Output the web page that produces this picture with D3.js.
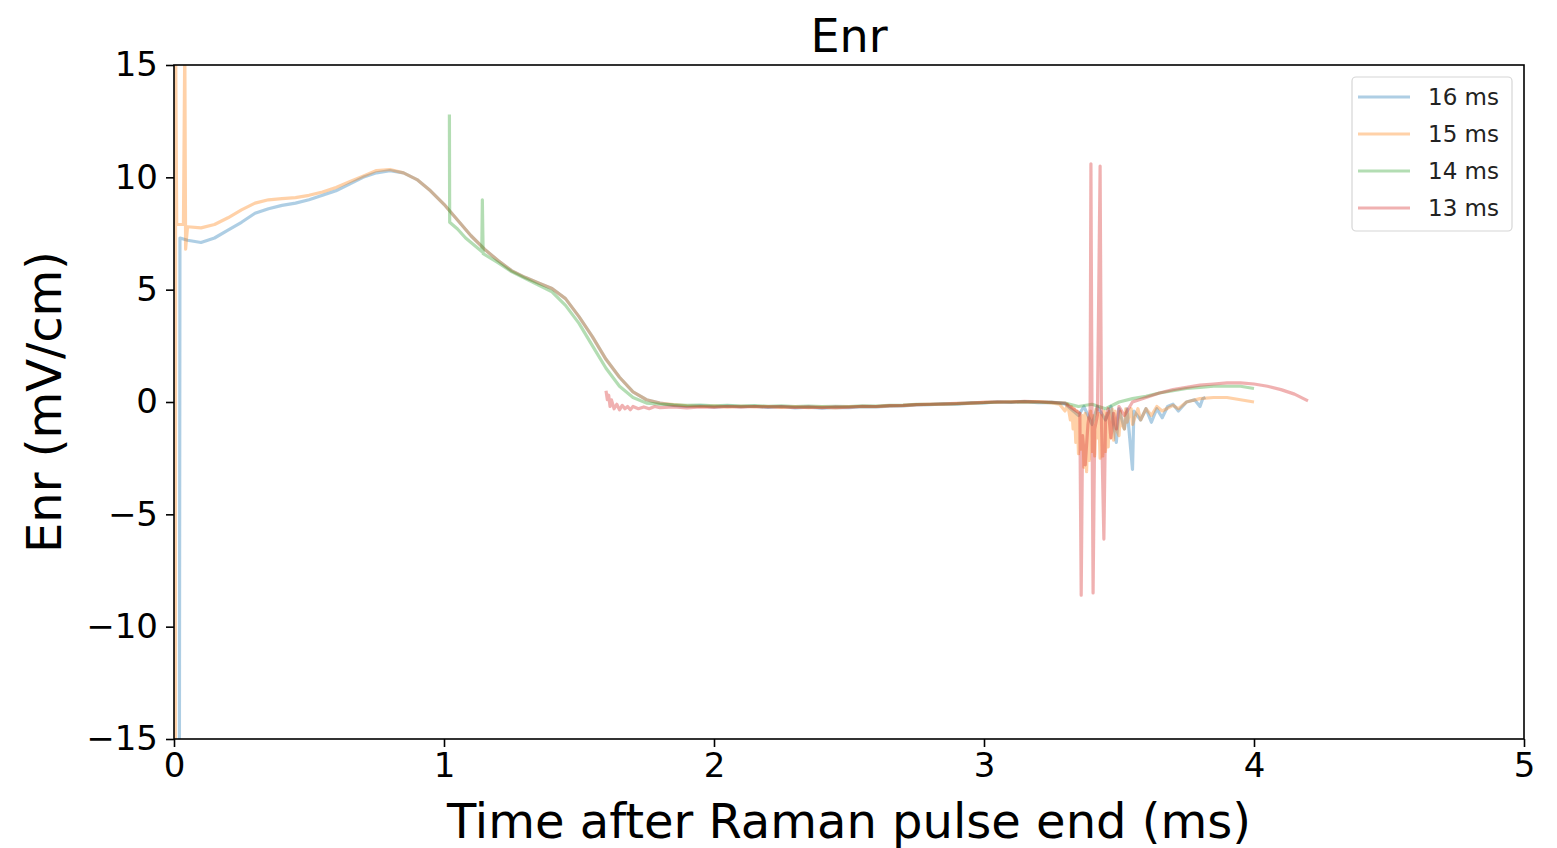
<!DOCTYPE html>
<html><head><meta charset="utf-8">
<script src="https://cdn.jsdelivr.net/npm/d3@7"></script>
<style>body{margin:0;background:#fff}svg{display:block}text{font-family:"DejaVu Sans",sans-serif}</style>
</head><body><div id="chart"></div>
<script>
const seriesNames = ["16 ms","15 ms","14 ms","13 ms"];
const seriesColors = ["#1f77b4","#ff7f0e","#2ca02c","#d62728"];
const xTicks = [0,1,2,3,4,5];
const yTicks = [-15,-10,-5,0,5,10,15];

const s16 = [[0.02,-16],[0.022,7.3],[0.05,7.2],[0.1,7.1],[0.15,7.3],[0.2,7.65],[0.25,8.0],[0.3,8.4],[0.35,8.6],[0.4,8.75],[0.45,8.85],[0.5,9.0],[0.55,9.2],[0.6,9.4],[0.65,9.7],[0.7,10.0],[0.75,10.2],[0.8,10.3],[0.85,10.2],[0.9,9.9],[0.95,9.4],[1.0,8.8],[1.05,8.1],[1.1,7.4],[1.15,6.8],[1.2,6.3],[1.25,5.85],[1.3,5.55],[1.35,5.3],[1.4,5.05],[1.45,4.6],[1.5,3.8],[1.55,2.9],[1.6,1.9],[1.65,1.1],[1.7,0.45],[1.75,0.1],[1.8,-0.05],
[1.85,-0.15],[1.9,-0.2],[1.95,-0.17],[2.0,-0.22],[2.05,-0.18],[2.1,-0.21],[2.15,-0.19],[2.2,-0.24],[2.25,-0.2],[2.3,-0.26],[2.35,-0.23],[2.4,-0.27],[2.45,-0.24],[2.5,-0.25],[2.55,-0.21],[2.6,-0.22],[2.65,-0.18],[2.7,-0.17],[2.75,-0.13],[2.8,-0.12],[2.85,-0.09],[2.9,-0.1],[2.95,-0.05],[3.0,-0.04],[3.05,0.0],[3.1,-0.02],[3.15,0.02],[3.2,-0.03],[3.25,-0.02],[3.3,-0.08],
[3.35,-0.6],[3.37,-0.2],[3.4,-1.0],[3.42,-0.2],[3.45,-0.8],[3.47,-0.2],[3.49,-1.8],[3.5,-0.3],[3.52,-1.2],[3.53,-0.3],[3.55,-3.0],[3.555,-0.4],[3.58,-0.8],[3.6,-0.3],[3.62,-0.9],[3.64,-0.3],[3.66,-0.7],[3.68,-0.2],[3.7,-0.1],[3.72,-0.4],[3.75,0.0],[3.78,0.1],[3.8,-0.2],[3.81,0.15],[3.82,0.2]];

const s15 = [[0.005,-16],[0.006,16],[0.01,7.9],[0.035,7.9],[0.04,16],[0.043,6.8],[0.05,7.8],[0.1,7.75],[0.15,7.9],[0.2,8.2],[0.25,8.55],[0.3,8.85],[0.35,9.0],[0.4,9.05],[0.45,9.1],[0.5,9.2],[0.55,9.35],[0.6,9.55],[0.65,9.8],[0.7,10.05],[0.75,10.3],[0.8,10.35],[0.85,10.2],[0.9,9.9],[0.95,9.4],[1.0,8.8],[1.05,8.1],[1.1,7.4],[1.15,6.8],[1.2,6.3],[1.25,5.85],[1.3,5.55],[1.35,5.3],[1.4,5.05],[1.45,4.6],[1.5,3.8],[1.55,2.9],[1.6,1.9],[1.65,1.1],[1.7,0.45],[1.75,0.1],[1.8,-0.05],
[1.85,-0.12],[1.9,-0.17],[1.95,-0.2],[2.0,-0.18],[2.05,-0.22],[2.1,-0.19],[2.15,-0.21],[2.2,-0.2],[2.25,-0.24],[2.3,-0.22],[2.35,-0.25],[2.4,-0.23],[2.45,-0.26],[2.5,-0.22],[2.55,-0.2],[2.6,-0.21],[2.65,-0.17],[2.7,-0.16],[2.75,-0.12],[2.8,-0.11],[2.85,-0.1],[2.9,-0.07],[2.95,-0.06],[3.0,-0.02],[3.05,-0.01],[3.1,0.01],[3.15,0.0],[3.2,0.02],[3.25,-0.04],[3.28,-0.1],[3.3,-0.4],[3.31,-0.1],
[3.32,-0.8],[3.325,-0.2],[3.33,-1.2],[3.335,-0.3],[3.34,-1.8],[3.345,-0.4],[3.35,-2.3],[3.355,-0.5],[3.36,-2.1],[3.365,-0.6],[3.37,-2.9],[3.375,-0.5],[3.38,-3.1],[3.385,-0.7],[3.39,-2.6],[3.395,-0.4],[3.40,-2.2],[3.405,-0.6],[3.41,-2.4],[3.415,-0.3],[3.42,-1.6],[3.425,-0.5],[3.43,-2.5],[3.435,-0.6],[3.44,-2.4],[3.445,-0.4],[3.45,-2.2],[3.455,-0.5],[3.46,-2.0],[3.465,-0.4],[3.47,-1.6],[3.475,-0.3],[3.48,-1.7],[3.485,-0.4],[3.49,-1.2],[3.5,-1.5],[3.505,-0.4],[3.51,-1.0],[3.52,-1.2],[3.525,-0.3],[3.53,-0.9],[3.545,-0.3],[3.55,-1.0],[3.57,-0.3],[3.58,-0.8],[3.6,-0.3],[3.62,-0.6],[3.64,-0.2],[3.66,-0.4],[3.7,-0.15],[3.72,-0.3],[3.75,0.0],[3.8,0.15],[3.85,0.2],[3.9,0.2],[3.95,0.1],[4.0,0.0]];

const s14 = [[1.02,12.8],[1.021,8.0],[1.05,7.7],[1.08,7.3],[1.1,7.1],[1.14,6.7],[1.142,9.0],[1.145,6.6],[1.2,6.2],[1.25,5.8],[1.3,5.5],[1.35,5.2],[1.4,4.9],[1.45,4.3],[1.5,3.5],[1.55,2.5],[1.6,1.5],[1.65,0.7],[1.7,0.2],[1.75,-0.05],[1.8,-0.1],
[1.85,-0.13],[1.9,-0.15],[1.95,-0.14],[2.0,-0.17],[2.05,-0.15],[2.1,-0.18],[2.15,-0.16],[2.2,-0.19],[2.25,-0.17],[2.3,-0.2],[2.35,-0.18],[2.4,-0.21],[2.45,-0.19],[2.5,-0.2],[2.55,-0.17],[2.6,-0.18],[2.65,-0.15],[2.7,-0.14],[2.75,-0.11],[2.8,-0.1],[2.85,-0.08],[2.9,-0.07],[2.95,-0.04],[3.0,-0.03],[3.05,0.0],[3.1,0.0],[3.15,0.02],[3.2,0.0],[3.25,-0.02],[3.3,-0.05],
[3.35,-0.2],[3.4,-0.1],[3.45,-0.3],[3.5,0.0],[3.55,0.15],[3.6,0.25],[3.65,0.4],[3.7,0.5],[3.75,0.6],[3.8,0.65],[3.85,0.7],[3.9,0.7],[3.95,0.7],[4.0,0.6]];

const s13 = [[1.6,0.5],[1.605,0.1],[1.61,0.3],[1.615,-0.2],[1.62,0.1],[1.63,-0.3],[1.64,-0.1],[1.65,-0.35],[1.66,-0.15],[1.67,-0.3],[1.68,-0.2],[1.69,-0.35],[1.7,-0.2],[1.72,-0.3],[1.74,-0.22],[1.76,-0.3],[1.78,-0.2],[1.8,-0.25],
[1.85,-0.22],[1.9,-0.26],[1.95,-0.22],[2.0,-0.24],[2.05,-0.2],[2.1,-0.23],[2.15,-0.2],[2.2,-0.22],[2.25,-0.21],[2.3,-0.24],[2.35,-0.22],[2.4,-0.25],[2.45,-0.22],[2.5,-0.23],[2.55,-0.19],[2.6,-0.2],[2.65,-0.16],[2.7,-0.15],[2.75,-0.12],[2.8,-0.1],[2.85,-0.08],[2.9,-0.06],[2.95,-0.04],[3.0,-0.02],[3.05,0.01],[3.1,0.0],[3.15,0.03],[3.2,0.01],[3.25,-0.01],[3.3,-0.05],
[3.33,-0.3],[3.355,-0.5],[3.36,-8.6],[3.365,-1.5],[3.375,-2.8],[3.385,-1.0],[3.393,-0.3],[3.396,10.6],[3.4,-0.4],[3.404,-8.5],[3.41,-1.2],[3.42,-0.6],[3.43,10.5],[3.435,-0.8],[3.444,-6.1],[3.45,-0.8],[3.46,-0.3],[3.47,-1.6],[3.48,-0.5],[3.49,-1.2],[3.5,-0.2],[3.52,-0.6],[3.55,0.0],[3.6,0.2],[3.65,0.4],[3.7,0.55],[3.75,0.65],[3.8,0.75],[3.85,0.8],[3.9,0.85],[3.95,0.85],[4.0,0.8],[4.05,0.7],[4.1,0.55],[4.15,0.35],[4.2,0.05]];

const seriesData = [s16, s15, s14, s13];

const W = 1557, H = 848;
const m = {left:174, right:33, top:65, bottom:109};
const svg = d3.select("#chart").append("svg").attr("width",W).attr("height",H);
const x = d3.scaleLinear().domain([0,5]).range([m.left, W-m.right]);
const y = d3.scaleLinear().domain([-15,15]).range([H-m.bottom, m.top]);

svg.append("defs").append("clipPath").attr("id","clip").append("rect")
  .attr("x",x(0)).attr("y",y(15)).attr("width",x(5)-x(0)).attr("height",y(-15)-y(15));

const line = d3.line().x(d=>x(d[0])).y(d=>y(d[1]));
const g = svg.append("g").attr("clip-path","url(#clip)");
seriesData.forEach((s,i)=>{
  g.append("path").datum(s).attr("d",line).attr("fill","none")
   .attr("stroke",seriesColors[i]).attr("stroke-opacity",0.36).attr("stroke-width",3.2)
   .attr("stroke-linejoin","round");
});

const xAxis = svg.append("g").attr("transform",`translate(0,${y(-15)})`)
  .call(d3.axisBottom(x).tickValues(xTicks).tickFormat(d3.format("d")).tickSize(8).tickPadding(6));
const yAxis = svg.append("g").attr("transform",`translate(${x(0)},0)`)
  .call(d3.axisLeft(y).tickValues(yTicks).tickFormat(d=>d<0?"\u2212"+Math.abs(d):d).tickSize(8).tickPadding(8));
[xAxis,yAxis].forEach(a=>{
  a.select(".domain").remove();
  a.selectAll(".tick line").attr("stroke","#000").attr("stroke-width",1.6);
  a.selectAll(".tick text").attr("fill","#000").style("font-size","34px").style("font-family","DejaVu Sans");
});

svg.append("rect").attr("x",x(0)).attr("y",y(15)).attr("width",x(5)-x(0)).attr("height",y(-15)-y(15))
  .attr("fill","none").attr("stroke","#000").attr("stroke-width",1.6);

svg.append("text").attr("x",(x(0)+x(5))/2).attr("y",52).attr("text-anchor","middle")
  .style("font-size","46px").text("Enr");
svg.append("text").attr("x",(x(0)+x(5))/2).attr("y",838).attr("text-anchor","middle")
  .style("font-size","48px").text("Time after Raman pulse end (ms)");
svg.append("text").attr("transform",`translate(61,${(y(15)+y(-15))/2}) rotate(-90)`).attr("text-anchor","middle")
  .style("font-size","48px").text("Enr (mV/cm)");

const lg = svg.append("g");
lg.append("rect").attr("x",1352).attr("y",77).attr("width",160).attr("height",154).attr("rx",4)
  .attr("fill","#fff").attr("fill-opacity",0.8).attr("stroke","#d6d6d6").attr("stroke-width",1.2);
seriesNames.forEach((n,i)=>{
  const yy = 97 + i*37;
  lg.append("line").attr("x1",1358).attr("x2",1410).attr("y1",yy).attr("y2",yy)
    .attr("stroke",seriesColors[i]).attr("stroke-opacity",0.36).attr("stroke-width",3.2);
  lg.append("text").attr("x",1428).attr("y",yy+8).style("font-size","23px").attr("fill","#222").text(n);
});
</script></body></html>
